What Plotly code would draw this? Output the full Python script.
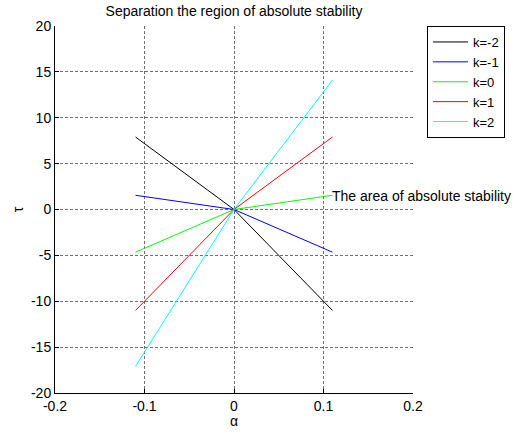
import plotly.graph_objects as go

alpha = [-0.11, 0.0, 0.11]
series = {
    "k=-2": [7.9, 0.0, -11.0],
    "k=-1": [1.55, 0.0, -4.65],
    "k=0": [-4.65, 0.0, 1.55],
    "k=1": [-11.0, 0.0, 7.9],
    "k=2": [-17.1, 0.0, 14.1],
}
colors = ["#000000", "#0000ff", "#00ff00", "#ff0000", "#00ffff"]
x_ticks = [-0.2, -0.1, 0, 0.1, 0.2]
x_labels = ["-0.2", "-0.1", "0", "0.1", "0.2"]
y_ticks = [-20, -15, -10, -5, 0, 5, 10, 15, 20]
y_labels = ["-20", "-15", "-10", "-5", "0", "5", "10", "15", "20"]

FS = 14

fig = go.Figure()
for (name, vals), c in zip(series.items(), colors):
    fig.add_trace(go.Scatter(x=alpha, y=vals, mode="lines", name=name,
                             line=dict(color=c, width=1)))

fig.add_annotation(x=0.107, y=1.5, text="The area of absolute stability",
                   showarrow=False, xanchor="left", yanchor="middle",
                   font=dict(size=FS, color="black"))
fig.add_annotation(x=0.5, y=-0.077, xref="paper", yref="paper", text="α",
                   showarrow=False, xanchor="center", yanchor="middle",
                   font=dict(size=FS, color="black"))

axis_common = dict(showgrid=True, gridcolor="#707070", griddash="3px,2px",
                   gridwidth=1, zeroline=False, showline=True, linecolor="black",
                   linewidth=1, ticks="inside", ticklen=4, tickcolor="black",
                   mirror=False, automargin=False,
                   tickfont=dict(size=FS, color="black"))

fig.update_xaxes(range=[-0.2, 0.2], tickvals=x_ticks, ticktext=x_labels,
                 **axis_common)
fig.update_yaxes(range=[-20, 20], tickvals=y_ticks, ticktext=y_labels,
                 title=dict(text="τ", font=dict(size=FS, color="black"), standoff=4),
                 **axis_common)

fig.update_layout(
    width=515, height=434,
    margin=dict(l=55, r=102, t=26, b=41, autoexpand=False),
    paper_bgcolor="white", plot_bgcolor="white",
    font=dict(family="Arial, Liberation Sans, sans-serif", size=FS, color="black"),
    title=dict(text="Separation the region of absolute stability", x=0.4544,
               xanchor="center", y=0.975, yanchor="middle", automargin=False,
               font=dict(size=FS, color="black")),
    legend=dict(x=1.039, y=1.0, xanchor="left", yanchor="top",
                bordercolor="black", borderwidth=1, bgcolor="white",
                font=dict(size=13), itemwidth=35, tracegroupgap=0),
    showlegend=True,
)

fig.write_html("out.html", config={"displayModeBar": False},
               post_script="document.body.style.margin='0';document.body.style.padding='0';")
